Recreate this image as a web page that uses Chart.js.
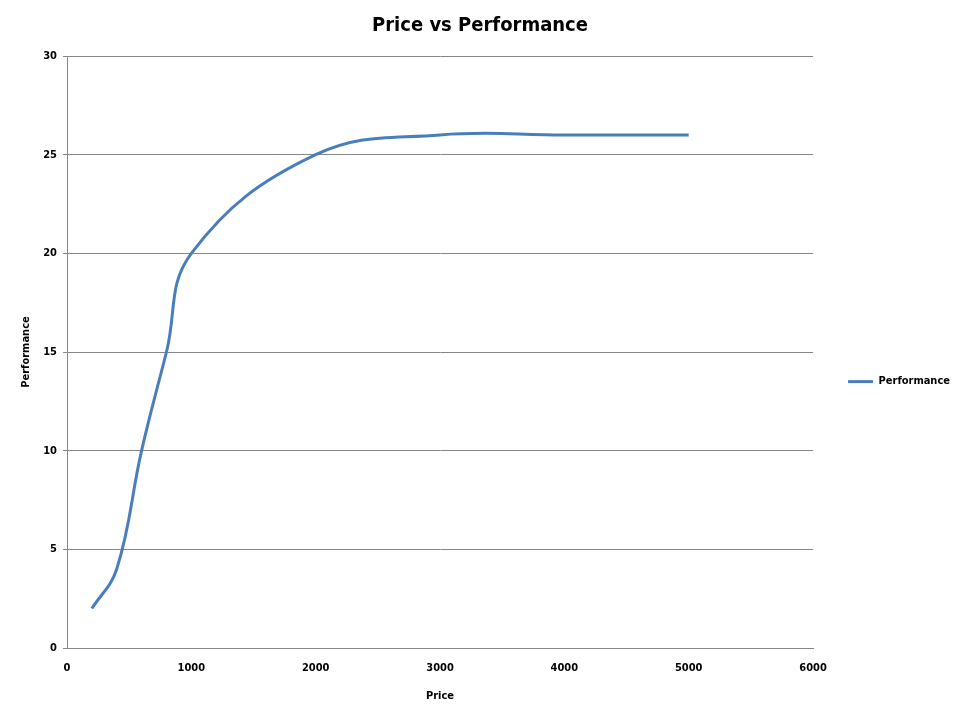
<!DOCTYPE html>
<html>
<head>
<meta charset="utf-8">
<title>Price vs Performance</title>
<script src="https://cdn.jsdelivr.net/npm/chart.js@4.4.1/dist/chart.umd.min.js"></script>
<style>
	html, body { margin: 0; padding: 0; background: #ffffff; }
	#wrap { width: 960px; height: 720px; position: relative; }
</style>
</head>
<body>
<div id="wrap"><canvas id="priceChart"></canvas></div>
<script>
"use strict";

// values
const prices = [200, 400, 600, 800, 1000, 2000, 3000, 4000, 5000];
const performance = [2, 4, 10, 15, 20, 25, 26, 26, 26];
const yTicks = [0, 5, 10, 15, 20, 25, 30];
const xTicks = [0, 1000, 2000, 3000, 4000, 5000, 6000];

const FONT = "'Liberation Sans Narrow', 'DejaVu Sans Condensed', 'Arial Narrow', sans-serif";
const GRID = '#868686';
const LINE = '#4a7ebb';

const points = prices.map((p, i) => ({ x: p, y: performance[i] }));

const ctx = document.getElementById('priceChart').getContext('2d');

const priceChart = new Chart(ctx, {
	type: 'scatter',
	data: {
		datasets: [
			{
				label: 'Performance',
				data: points,
				showLine: true,
				borderColor: LINE,
				backgroundColor: LINE,
				borderWidth: 3,
				pointRadius: 0,
				pointHoverRadius: 0,
				tension: 0.4,
				fill: false
			}
		]
	},
	options: {
		responsive: true,
		maintainAspectRatio: false,
		animation: false,
		devicePixelRatio: 1,
		layout: {
			padding: { left: 0, right: 0, top: 0, bottom: 0 }
		},
		plugins: {
			tooltip: { enabled: false },
			title: {
				display: true,
				text: 'Price vs Performance',
				color: '#000000',
				font: { family: FONT, size: 20, weight: 'bold' },
				padding: { top: 14, bottom: 18 }
			},
			legend: {
				display: true,
				position: 'right',
				align: 'center',
				title: {
					display: true,
					text: ' ',
					font: { size: 1 },
					padding: { top: 21, bottom: 21 }
				},
				labels: {
					color: '#000000',
					font: { family: FONT, size: 11, weight: 'bold' },
					boxWidth: 25,
					boxHeight: 3,
					padding: 35,
					generateLabels: (chart) => {
						const items = Chart.defaults.plugins.legend.labels.generateLabels(chart);
						return items.map(item => Object.assign(item, { lineWidth: 0 }));
					}
				}
			}
		},
		scales: {
			x: {
				type: 'linear',
				min: 0,
				max: 6000,
				afterBuildTicks: (scale) => {
					scale.ticks = xTicks.map(v => ({ value: v }));
				},
				afterFit: (scale) => {
					scale.height = 72;
				},
				grid: {
					display: true,
					drawOnChartArea: false,
					drawTicks: false,
					color: GRID
				},
				border: { display: true, color: GRID, width: 1 },
				ticks: {
					color: '#000000',
					font: { family: FONT, size: 11, weight: 'bold' },
					padding: 14,
					maxRotation: 0,
					callback: (v) => String(v)
				},
				title: {
					display: true,
					text: 'Price',
					color: '#000000',
					font: { family: FONT, size: 11, weight: 'bold' },
					padding: { top: 0, bottom: 17 }
				}
			},
			y: {
				type: 'linear',
				min: 0,
				max: 30,
				afterBuildTicks: (scale) => {
					scale.ticks = yTicks.map(v => ({ value: v }));
				},
				afterFit: (scale) => {
					scale.width = 67;
				},
				grid: {
					display: true,
					color: GRID,
					lineWidth: 1,
					drawTicks: true,
					tickLength: 4
				},
				border: { display: true, color: GRID, width: 1 },
				ticks: {
					color: '#000000',
					font: { family: FONT, size: 11, weight: 'bold' },
					padding: 6,
					callback: (v) => String(v)
				},
				title: {
					display: true,
					text: 'Performance',
					color: '#000000',
					font: { family: FONT, size: 11, weight: 'bold' },
					padding: { top: 20, bottom: 0 }
				}
			}
		}
	}
});
</script>
</body>
</html>
